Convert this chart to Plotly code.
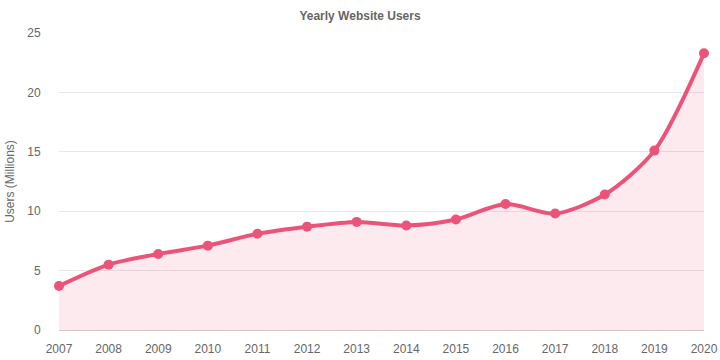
import plotly.graph_objects as go

years = ["2007", "2008", "2009", "2010", "2011", "2012", "2013", "2014", "2015", "2016", "2017", "2018", "2019", "2020"]
users = [3.7, 5.5, 6.4, 7.1, 8.1, 8.7, 9.1, 8.8, 9.3, 10.6, 9.8, 11.4, 15.1, 23.3]

FONT = "Liberation Sans, Arial, sans-serif"

fig = go.Figure()
fig.add_trace(go.Scatter(
    x=years, y=users, mode="lines+markers",
    line=dict(color="#eb5478", width=4, shape="spline", smoothing=0.8),
    marker=dict(color="#eb5478", size=10),
    fill="tozeroy", fillcolor="rgba(235,84,120,0.12)",
    cliponaxis=False,
    hoverinfo="x+y",
))
fig.update_layout(
    width=720, height=360,
    margin=dict(l=59, r=16, t=33, b=30),
    paper_bgcolor="white", plot_bgcolor="white",
    title=dict(text="<b>Yearly Website Users</b>", x=0.5, xanchor="center", y=1 - 16 / 360, yanchor="middle",
               font=dict(family=FONT, size=12, color="#666")),
    font=dict(family=FONT, size=12, color="#666"),
    showlegend=False,
    xaxis=dict(type="category", showgrid=False, showline=True, linecolor="#d9c4ca", linewidth=1,
               ticks="outside", ticklen=8, tickcolor="rgba(0,0,0,0)",
               tickfont=dict(size=12, color="#666"), range=[0, 13], fixedrange=True,
               automargin=False),
    yaxis=dict(range=[0, 25], dtick=5, showgrid=True, gridcolor="#e8e8e8", zeroline=False,
               ticks="outside", ticklen=15, tickcolor="rgba(0,0,0,0)",
               tickfont=dict(size=12, color="#666"), automargin=False,
               title=dict(text="Users (Millions)", font=dict(size=12, color="#666"), standoff=10)),
)
fig.write_html("out.html", config={"displayModeBar": False},
               post_script="document.body.style.margin='0';")
